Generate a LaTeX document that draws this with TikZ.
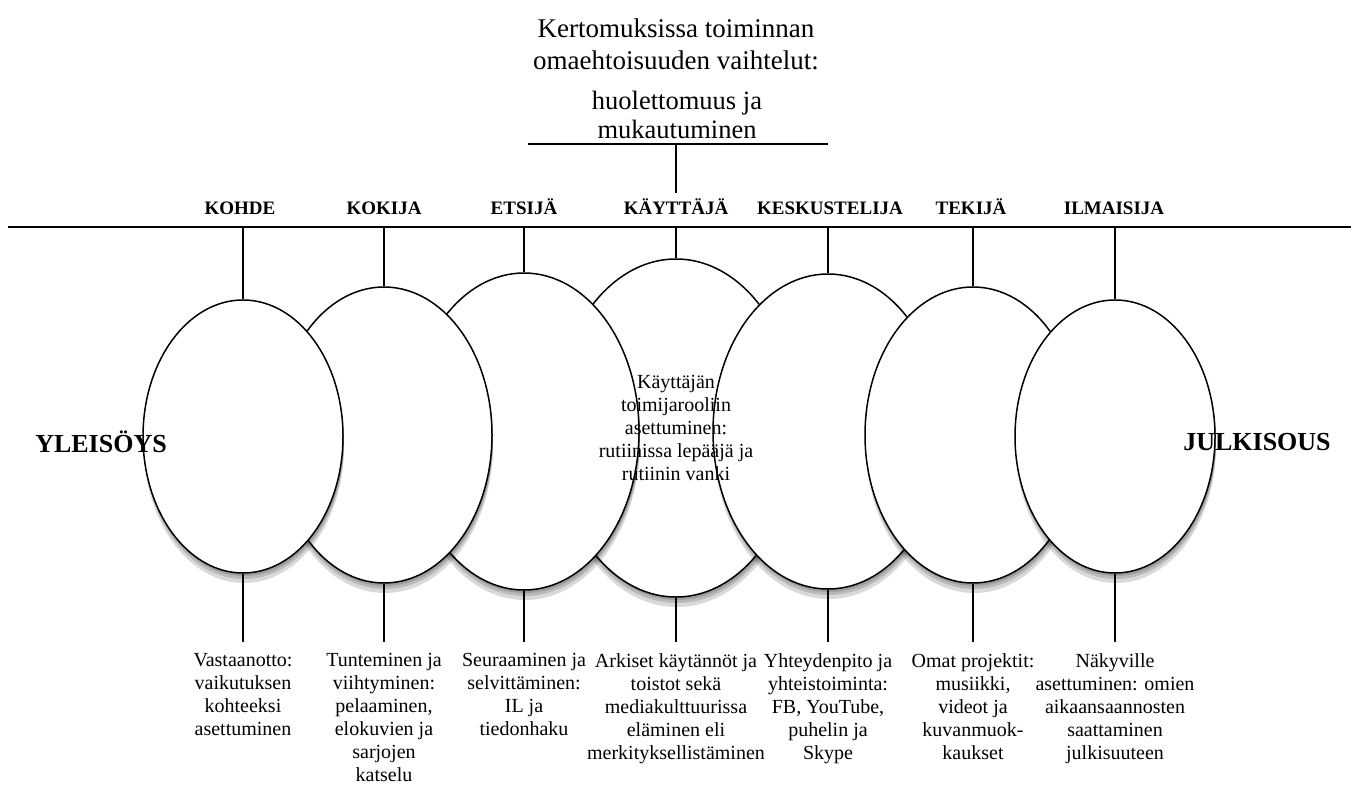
\documentclass[tikz,border=0pt]{standalone}
\usepackage{fontspec}
\setmainfont{Liberation Serif}
\usetikzlibrary{shapes, positioning}

\begin{document}
\begin{tikzpicture}[
    x=1pt, y=-1pt,
    role/.style={anchor=base, inner ysep=5pt, font=\fontsize{19}{21}\selectfont\bfseries},
    pole/.style={font=\fontsize{26}{30}\selectfont\bfseries},
    head/.style={align=center, font=\fontsize{27}{32}\selectfont},
    bubble/.style={ellipse, draw, line width=1.5pt, fill=white, inner sep=0pt},
    shade/.style={ellipse, fill=black, opacity=0.15, inner sep=0pt},
    desc/.style={align=center, anchor=north, inner ysep=11pt, font=\fontsize{20}{23}\selectfont},
    stem/.style={line width=1.5pt}
]
    \useasboundingbox (0,0) rectangle (1351,784);

    \node[head] (title) at (676,44) {Kertomuksissa toiminnan\\omaehtoisuuden vaihtelut:};
    \node[head, font=\fontsize{26.5}{29}\selectfont] (sub) at (677,115) {huolettomuus ja\\mukautuminen};
    \coordinate (subL) at (528,144);
    \coordinate (subR) at (828,144);
    \draw[stem] (subL) -- (subR);

    \coordinate (lineL) at (8,227);
    \coordinate (lineR) at (1351,227);
    \draw[line width=2pt] (lineL) -- (lineR);

    \node[role] (l-kohde) at (240,214) {KOHDE};
    \node[role] (l-kokija) at (384,214) {KOKIJA};
    \node[role] (l-etsija) at (524,214) {ETSIJÄ};
    \node[role] (l-kaytto) at (676,214) {KÄYTTÄJÄ};
    \node[role] (l-keskus) at (830,214) {KESKUSTELIJA};
    \node[role] (l-tekija) at (971,214) {TEKIJÄ};
    \node[role] (l-ilmais) at (1114,214) {ILMAISIJA};
    \draw[stem] (subL -| l-kaytto) -- (l-kaytto.north);

    \foreach \r/\cx/\cy/\w/\h in {kaytto/676/428/244/338, etsija/524/431.5/230/317,
            keskus/828/431.5/230/315, kokija/384/435/216/296, tekija/973/435/216/296,
            kohde/243/436.5/200/273, ilmais/1115/436.5/200/273} {
        \node[shade, minimum width=\w, minimum height=\h] (s1-\r) at (\cx+1,\cy+3) {};
        \node[shade, minimum width=\w, minimum height=\h] (s2-\r) at (\cx+1,\cy+6) {};
        \node[shade, minimum width=\w, minimum height=\h] (s3-\r) at (\cx+1,\cy+10) {};
        \node[bubble, minimum width=\w, minimum height=\h] (\r) at (\cx,\cy) {};
    }

    \foreach \r in {kohde, kokija, etsija, kaytto, keskus, tekija, ilmais}
        \draw[stem] (\r.north) -- (\r.north |- lineL);

    \node[align=center, font=\fontsize{20}{23}\selectfont] (kaytto-t) at (kaytto) {Käyttäjän\\toimijarooliin\\asettuminen:\\rutiinissa lepääjä ja\\rutiinin vanki};

    \node[pole] (yleis) at (101,442) {YLEISÖYS};
    \node[pole] (julk) at (1257,442) {JULKISOUS};

    \node[desc] (d-kohde) at (243,642) {Vastaanotto:\\vaikutuksen\\kohteeksi\\asettuminen};
    \node[desc] (d-kokija) at (384,642) {Tunteminen ja\\viihtyminen:\\pelaaminen,\\elokuvien ja\\sarjojen\\katselu};
    \node[desc] (d-etsija) at (524,642) {Seuraaminen ja\\selvittäminen:\\IL ja\\tiedonhaku};
    \node[desc] (d-kaytto) at (676,642) {Arkiset käytännöt ja\\toistot sekä\\mediakulttuurissa\\eläminen eli\\merkityksellistäminen};
    \node[desc] (d-keskus) at (828,642) {Yhteydenpito ja\\yhteistoiminta:\\FB, YouTube,\\puhelin ja\\Skype};
    \node[desc] (d-tekija) at (973,642) {Omat projektit:\\musiikki,\\videot ja\\kuvanmuok-\\kaukset};
    \node[desc] (d-ilmais) at (1115,642) {Näkyville\\asettuminen: omien\\aikaansaannosten\\saattaminen\\julkisuuteen};

    \foreach \r in {kohde, kokija, etsija, kaytto, keskus, tekija, ilmais}
        \draw[stem] (\r.south) -- (d-\r.north);
\end{tikzpicture}
\end{document}
